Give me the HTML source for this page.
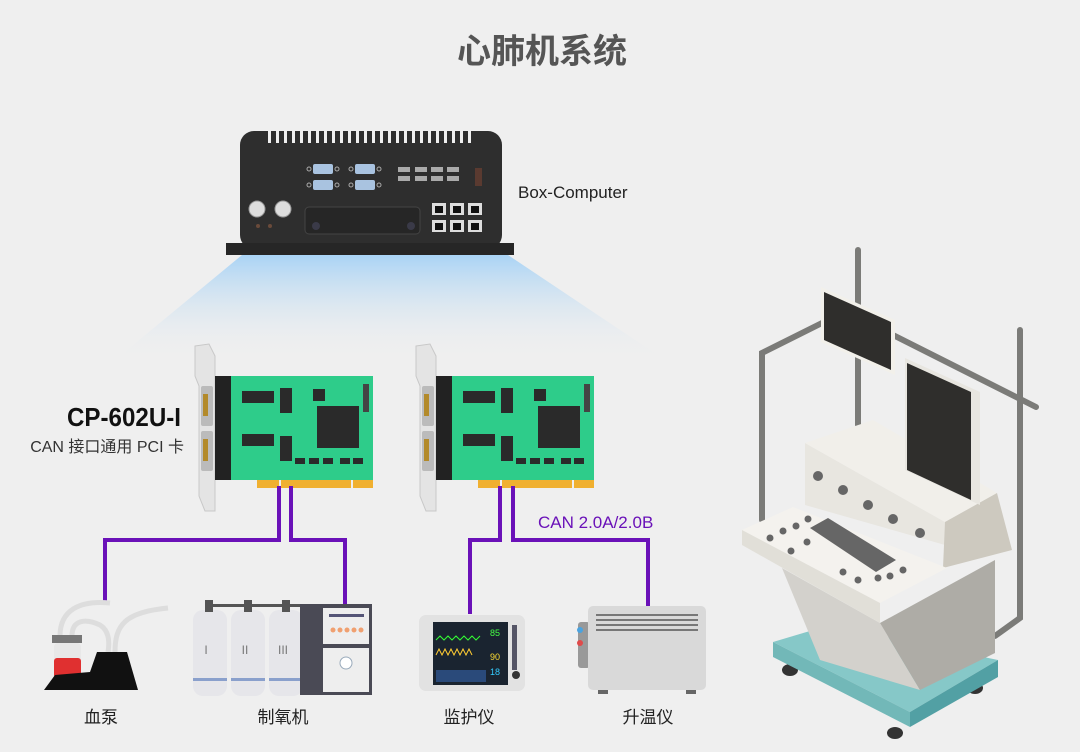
<!DOCTYPE html>
<html><head><meta charset="utf-8"><style>
html,body{margin:0;padding:0;background:#efefef}
svg{display:block}
text{font-family:"Liberation Sans","Noto Sans CJK SC",sans-serif}
</style></head><body>
<svg width="1080" height="752" viewBox="0 0 1080 752" xmlns="http://www.w3.org/2000/svg">
<defs>
<linearGradient id="beam" x1="0" y1="0" x2="0" y2="1">
<stop offset="0" stop-color="#a9d3f5"/><stop offset="1" stop-color="#efefef" stop-opacity="0"/>
</linearGradient>
<g id="card">
  <polygon points="0,0 14,-2 20,10 20,165 10,165 4,150 4,40 0,30" fill="#e4e4e4" stroke="#c8c8c8"/>
  <rect x="6" y="40" width="12" height="40" rx="2" fill="#bbb"/>
  <rect x="6" y="85" width="12" height="40" rx="2" fill="#bbb"/>
  <rect x="8" y="48" width="5" height="22" fill="#b38a2a"/>
  <rect x="8" y="93" width="5" height="22" fill="#b38a2a"/>
  <rect x="20" y="30" width="158" height="104" fill="#2ecc8a"/>
  <rect x="20" y="30" width="16" height="104" fill="#222"/>
  <rect x="47" y="45" width="32" height="12" fill="#2a2a2a"/>
  <rect x="47" y="88" width="32" height="12" fill="#2a2a2a"/>
  <rect x="85" y="42" width="12" height="25" fill="#2a2a2a"/>
  <rect x="85" y="90" width="12" height="25" fill="#2a2a2a"/>
  <rect x="122" y="60" width="42" height="42" fill="#2a2a2a"/>
  <rect x="118" y="43" width="12" height="12" fill="#2a2a2a"/>
  <rect x="168" y="38" width="6" height="28" fill="#444"/>
  <rect x="100" y="112" width="10" height="6" fill="#2a2a2a"/><rect x="114" y="112" width="10" height="6" fill="#2a2a2a"/><rect x="128" y="112" width="10" height="6" fill="#2a2a2a"/><rect x="145" y="112" width="10" height="6" fill="#2a2a2a"/><rect x="158" y="112" width="10" height="6" fill="#2a2a2a"/>
  <rect x="62" y="134" width="22" height="8" fill="#f0b030"/>
  <rect x="86" y="134" width="70" height="8" fill="#f0b030"/>
  <rect x="158" y="134" width="20" height="8" fill="#f0b030"/>
</g>
</defs>

<text x="542" y="63" text-anchor="middle" font-size="34" font-weight="bold" fill="#555">心肺机系统</text>

<polygon points="242,255 508,255 665,360 115,360" fill="url(#beam)"/>

<rect x="240" y="131" width="262" height="118" rx="14" fill="#2e2e2e"/>
<g fill="#efefef">
<rect x="268" y="130" width="3" height="13"/><rect x="276" y="130" width="3" height="13"/><rect x="284" y="130" width="3" height="13"/><rect x="292" y="130" width="3" height="13"/><rect x="300" y="130" width="3" height="13"/><rect x="308" y="130" width="3" height="13"/><rect x="316" y="130" width="3" height="13"/><rect x="324" y="130" width="3" height="13"/><rect x="332" y="130" width="3" height="13"/><rect x="340" y="130" width="3" height="13"/><rect x="348" y="130" width="3" height="13"/><rect x="356" y="130" width="3" height="13"/><rect x="364" y="130" width="3" height="13"/><rect x="372" y="130" width="3" height="13"/><rect x="380" y="130" width="3" height="13"/><rect x="388" y="130" width="3" height="13"/><rect x="396" y="130" width="3" height="13"/><rect x="404" y="130" width="3" height="13"/><rect x="412" y="130" width="3" height="13"/><rect x="420" y="130" width="3" height="13"/><rect x="428" y="130" width="3" height="13"/><rect x="436" y="130" width="3" height="13"/><rect x="444" y="130" width="3" height="13"/><rect x="452" y="130" width="3" height="13"/><rect x="460" y="130" width="3" height="13"/><rect x="468" y="130" width="3" height="13"/>
</g>
<rect x="226" y="243" width="288" height="12" fill="#262626"/>
<g fill="#a9c3e0"><rect x="313" y="164" width="20" height="10" rx="2"/><rect x="355" y="164" width="20" height="10" rx="2"/><rect x="313" y="180" width="20" height="10" rx="2"/><rect x="355" y="180" width="20" height="10" rx="2"/></g>
<g fill="none" stroke="#aaa"><circle cx="309" cy="169" r="2"/><circle cx="337" cy="169" r="2"/><circle cx="351" cy="169" r="2"/><circle cx="379" cy="169" r="2"/><circle cx="309" cy="185" r="2"/><circle cx="337" cy="185" r="2"/><circle cx="351" cy="185" r="2"/><circle cx="379" cy="185" r="2"/></g>
<g fill="#aaa"><rect x="398" y="167" width="12" height="5"/><rect x="415" y="167" width="12" height="5"/><rect x="431" y="167" width="12" height="5"/><rect x="447" y="167" width="12" height="5"/><rect x="398" y="176" width="12" height="5"/><rect x="415" y="176" width="12" height="5"/><rect x="431" y="176" width="12" height="5"/><rect x="447" y="176" width="12" height="5"/></g>
<rect x="475" y="168" width="7" height="18" fill="#5a3a30"/>
<circle cx="257" cy="209" r="8" fill="#ddd" stroke="#999"/><circle cx="283" cy="209" r="8" fill="#ddd" stroke="#999"/>
<circle cx="258" cy="226" r="2" fill="#6a4a3a"/><circle cx="270" cy="226" r="2" fill="#6a4a3a"/>
<rect x="305" y="207" width="115" height="27" rx="4" fill="#262626" stroke="#444"/>
<circle cx="316" cy="226" r="4" fill="#3a3a48"/><circle cx="411" cy="226" r="4" fill="#3a3a48"/>
<g fill="#ddd"><rect x="432" y="203" width="14" height="12"/><rect x="450" y="203" width="14" height="12"/><rect x="468" y="203" width="14" height="12"/><rect x="432" y="220" width="14" height="12"/><rect x="450" y="220" width="14" height="12"/><rect x="468" y="220" width="14" height="12"/></g>
<g fill="#111"><rect x="435" y="206" width="8" height="7"/><rect x="453" y="206" width="8" height="7"/><rect x="471" y="206" width="8" height="7"/><rect x="435" y="223" width="8" height="7"/><rect x="453" y="223" width="8" height="7"/><rect x="471" y="223" width="8" height="7"/></g>
<text x="518" y="198" font-size="17" fill="#222">Box-Computer</text>

<use href="#card" x="195" y="346"/>
<use href="#card" x="416" y="346"/>
<text x="181" y="426" text-anchor="end" font-size="26" font-weight="bold" fill="#111" textLength="114" lengthAdjust="spacingAndGlyphs">CP-602U-I</text>
<text x="184" y="452" text-anchor="end" font-size="16" fill="#333">CAN 接口通用 PCI 卡</text>

<g fill="none" stroke="#6a11b8" stroke-width="4">
<path d="M279 486 V540 H105 V602"/>
<path d="M291 486 V540 H345 V605"/>
<path d="M500 486 V540 H470 V614"/>
<path d="M513 486 V540 H648 V606"/>
</g>
<text x="538" y="528" font-size="17" fill="#6a11b8">CAN 2.0A/2.0B</text>

<g fill="none" stroke="#ddd" stroke-width="5">
<path d="M60 636 C60 610 80 600 110 603"/>
<path d="M72 636 C72 620 85 618 100 625 C108 630 110 640 108 652"/>
<path d="M115 652 C115 625 125 612 168 608"/>
</g>
<rect x="52" y="635" width="30" height="8" fill="#777"/>
<rect x="54" y="643" width="27" height="36" rx="4" fill="#e8e8e8"/>
<rect x="54" y="658" width="27" height="20" rx="3" fill="#e03030"/>
<polygon points="97,652 127,652 138,690 44,690 55,675 90,672" fill="#111"/>
<g fill="#e6e6ea">
<rect x="193" y="610" width="34" height="86" rx="10"/><rect x="231" y="610" width="34" height="86" rx="10"/><rect x="269" y="610" width="34" height="86" rx="10"/>
</g>
<g fill="#555"><rect x="205" y="600" width="8" height="12"/><rect x="244" y="600" width="8" height="12"/><rect x="282" y="600" width="8" height="12"/><rect x="213" y="604" width="92" height="3"/></g>
<g fill="#8aa0cc"><rect x="193" y="678" width="34" height="3"/><rect x="231" y="678" width="34" height="3"/><rect x="269" y="678" width="34" height="3"/></g>
<g font-size="12" fill="#777" text-anchor="middle"><text x="206" y="654">I</text><text x="245" y="654">II</text><text x="283" y="654">III</text></g>
<rect x="300" y="604" width="72" height="91" fill="#4a4a55"/>
<rect x="323" y="608" width="46" height="36" fill="#eee"/>
<rect x="329" y="614" width="35" height="3" fill="#557"/>
<g fill="#f0a070"><circle cx="333" cy="630" r="2.5"/><circle cx="340" cy="630" r="2.5"/><circle cx="347" cy="630" r="2.5"/><circle cx="354" cy="630" r="2.5"/><circle cx="361" cy="630" r="2.5"/></g>
<rect x="323" y="648" width="46" height="44" fill="#eee"/>
<circle cx="346" cy="663" r="6" fill="#fff" stroke="#9ab"/>
<rect x="419" y="615" width="106" height="76" rx="7" fill="#e2e2e2"/>
<rect x="433" y="622" width="75" height="63" fill="#1a2430"/>
<path d="M436 640 l4 -4 4 4 4 -4 4 4 4-4 4 4 4-4 4 4 4-4 4 4 4-4" stroke="#3f3" fill="none"/>
<path d="M436 655 l3 -6 3 6 3 -6 3 6 3-6 3 6 3-6 3 6 3-6 3 6 3-6 3 6" stroke="#fc3" fill="none"/>
<rect x="436" y="670" width="50" height="12" fill="#2a4a7a"/>
<text x="490" y="636" font-size="9" fill="#4f4">85</text><text x="490" y="660" font-size="9" fill="#fd3">90</text><text x="490" y="675" font-size="9" fill="#3cf">18</text>
<rect x="512" y="625" width="5" height="45" fill="#556"/>
<circle cx="516" cy="675" r="4" fill="#333"/>
<rect x="578" y="622" width="12" height="46" rx="3" fill="#999"/>
<circle cx="580" cy="630" r="3" fill="#4aa3e0"/><circle cx="580" cy="643" r="3" fill="#e04a4a"/>
<rect x="588" y="606" width="118" height="84" rx="5" fill="#d9d9d9"/>
<g fill="#777"><rect x="596" y="614" width="102" height="2"/><rect x="596" y="619" width="102" height="2"/><rect x="596" y="624" width="102" height="2"/><rect x="596" y="629" width="102" height="2"/></g>
<rect x="598" y="690" width="10" height="4" fill="#666"/><rect x="686" y="690" width="10" height="4" fill="#666"/>

<g font-size="17" fill="#222" text-anchor="middle">
<text x="101" y="723">血泵</text><text x="283" y="723">制氧机</text><text x="469" y="723">监护仪</text><text x="648" y="723">升温仪</text>
</g>

<g stroke="#7b7b78" stroke-width="6" fill="none" stroke-linecap="round">
<path d="M822 323 L762 353 V520"/>
<path d="M858 250 V425"/>
<path d="M893 335 L1036 407"/>
<path d="M1020 330 V618 L995 636"/>
</g>
<polygon points="821,287 895,320 895,375 821,342" fill="#f2f0ea"/>
<polygon points="824,292 891,322 891,370 824,340" fill="#2f2e2c"/>
<g fill="#333"><ellipse cx="790" cy="670" rx="8" ry="6"/><ellipse cx="975" cy="688" rx="8" ry="6"/><ellipse cx="895" cy="733" rx="8" ry="6"/></g>
<polygon points="773,642 830,625 998,660 910,712" fill="#86c8c8"/>
<polygon points="773,642 910,712 910,727 773,657" fill="#72b8b8"/>
<polygon points="910,712 998,660 998,677 910,727" fill="#52a0a4"/>
<polygon points="782,568 880,623 920,690 820,660" fill="#d3d1cc"/>
<polygon points="880,623 995,560 995,653 920,690" fill="#aeaca6"/>
<polygon points="805,443 945,522 945,545 805,505" fill="#e8e6e0"/>
<polygon points="805,443 873,420 997,493 945,522" fill="#f1efea"/>
<polygon points="945,522 997,493 1012,550 943,568" fill="#cdc9bf"/>
<polygon points="742,530 793,507 947,568 880,603" fill="#f4f2ee"/>
<polygon points="742,530 880,603 880,623 742,545" fill="#e1dfd8"/>
<polygon points="905,358 980,392 980,505 905,470" fill="#e8e6e0"/>
<polygon points="907,363 971,392 971,500 907,470" fill="#2f2e2c"/>
<g fill="#666"><circle cx="818" cy="476" r="5"/><circle cx="843" cy="490" r="5"/><circle cx="868" cy="505" r="5"/><circle cx="893" cy="519" r="5"/><circle cx="920" cy="533" r="5"/>
<circle cx="770" cy="538" r="3.5"/><circle cx="783" cy="531" r="3.5"/><circle cx="796" cy="526" r="3.5"/><circle cx="808" cy="519" r="3.5"/><circle cx="791" cy="551" r="3.5"/><circle cx="807" cy="542" r="3.5"/><circle cx="843" cy="572" r="3.5"/><circle cx="858" cy="580" r="3.5"/><circle cx="878" cy="578" r="3.5"/><circle cx="890" cy="576" r="3.5"/><circle cx="903" cy="570" r="3.5"/></g>
<polygon points="810,528 828,518 896,560 876,572" fill="#666"/>
</svg>
</body></html>
